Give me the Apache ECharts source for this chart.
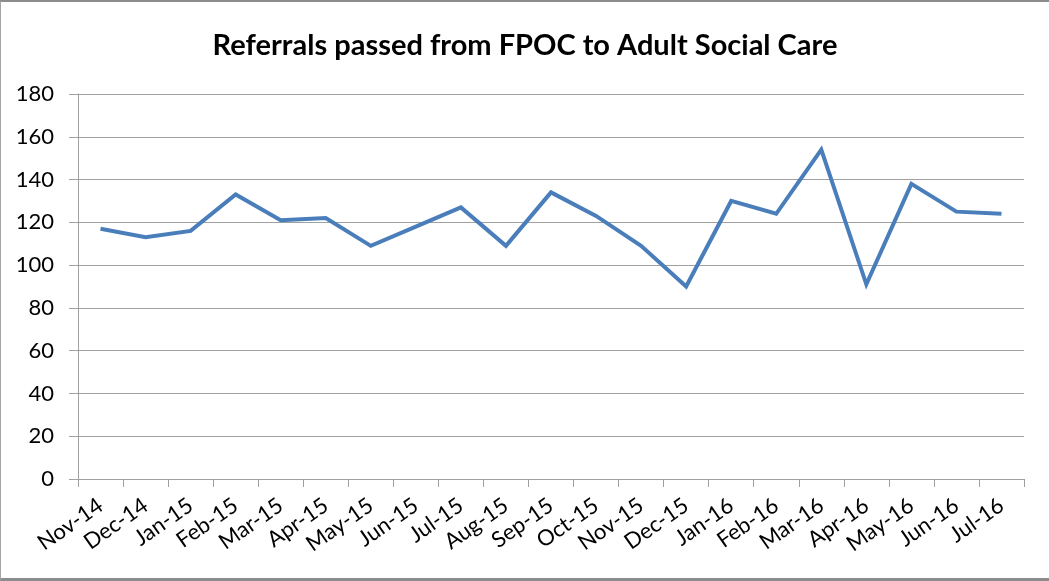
<!DOCTYPE html>
<html>
<head>
<meta charset="utf-8">
<script src="https://cdn.jsdelivr.net/npm/echarts@6/dist/echarts.min.js"></script>
<style>
  html, body { margin: 0; padding: 0; background: #fff; }
  #frame {
    width: 1049px; height: 581px; box-sizing: border-box;
    border-top: 2px solid #8c8c8c; border-left: 1px solid #a6a6a6;
    border-bottom: 3px solid #8c8c8c;
  }
  #chart { width: 1048px; height: 576px; }
</style>
</head>
<body>
<div id="frame"><div id="chart"></div></div>
<script>
// months on the x axis
var months = ['Nov-14', 'Dec-14', 'Jan-15', 'Feb-15', 'Mar-15', 'Apr-15', 'May-15',
    'Jun-15', 'Jul-15', 'Aug-15', 'Sep-15', 'Oct-15', 'Nov-15', 'Dec-15',
    'Jan-16', 'Feb-16', 'Mar-16', 'Apr-16', 'May-16', 'Jun-16', 'Jul-16'];
// referrals per month
var referrals = [117, 113, 116, 133, 121, 122, 109, 118, 127, 109, 134,
    123, 109, 90, 130, 124, 154, 91, 138, 125, 124];

var chart = echarts.init(document.getElementById('chart'));
var option = {
    animation: false,
    title: {
        text: 'Referrals passed from FPOC to Adult Social Care',
        left: 'center',
        top: 24,
        textStyle: {
            fontFamily: 'Lato',
            fontWeight: 'bold',
            fontSize: 29,
            color: '#000'
        }
    },
    grid: {
        left: 77,
        right: 25,
        top: 92,
        bottom: 99
    },
    xAxis: {
        type: 'category',
        data: months,
        boundaryGap: true,
        axisLine: { lineStyle: { color: '#a0a0a0', width: 1 } },
        axisTick: { show: true, length: 8, lineStyle: { color: '#a0a0a0' } },
        axisLabel: {
            rotate: 35,
            interval: 0,
            margin: 24,
            fontFamily: 'Lato',
            fontSize: 22,
            color: '#000'
        }
    },
    yAxis: {
        type: 'value',
        min: 0,
        max: 180,
        interval: 20,
        axisLine: { show: true, lineStyle: { color: '#a0a0a0', width: 1 } },
        axisTick: { show: true, length: 9, lineStyle: { color: '#a0a0a0' } },
        splitLine: { lineStyle: { color: '#a0a0a0', width: 1 } },
        axisLabel: {
            margin: 24,
            fontFamily: 'Lato',
            fontSize: 22,
            color: '#000'
        }
    },
    series: [{
        name: 'Referrals',
        type: 'line',
        data: referrals,
        symbol: 'none',
        lineStyle: { color: '#4a7ebb', width: 4, join: 'miter' }
    }]
};
chart.setOption(option);
</script>
</body>
</html>
